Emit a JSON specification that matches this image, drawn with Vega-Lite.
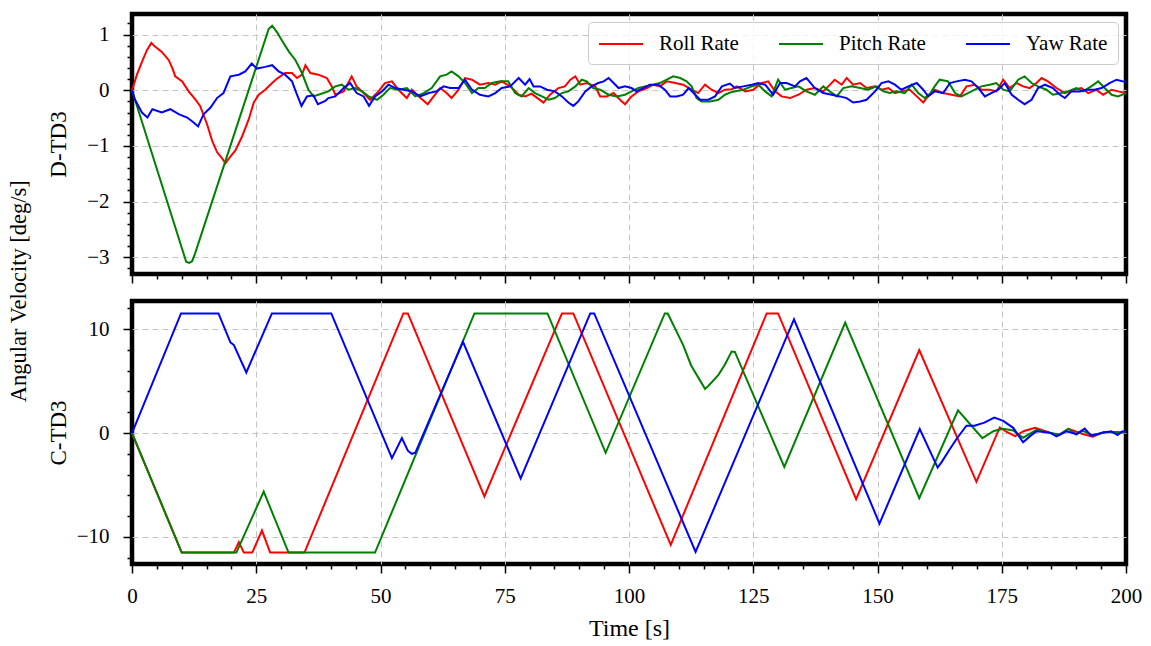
{
  "$schema": "https://vega.github.io/schema/vega-lite/v6.json",
  "background": "white",
  "padding": {"left": 8, "top": 10, "right": 10, "bottom": 5},
  "title": {"text": "Angular Velocity [deg/s]", "orient": "left", "anchor": "middle", "fontSize": 22.5, "font": "Liberation Serif", "fontWeight": "normal", "color": "black", "offset": 14, "dx": 35},
  "spacing": 9,
  "resolve": {"scale": {"color": "independent"}, "legend": {"color": "independent"}},
  "config": {
    "font": "Liberation Serif",
    "view": {"stroke": "black", "strokeWidth": 4.5},
    "axis": {
      "domain": false,
      "tickColor": "black",
      "tickWidth": 1.5,
      "tickCount": 100,
      "labelFont": "Liberation Serif",
      "titleFont": "Liberation Serif",
      "labelFontSize": 21,
      "titleFontSize": 23,
      "titleFontWeight": "normal",
      "labelColor": "black",
      "titleColor": "black",
      "gridColor": "#c4c4c4",
      "gridDash": [6, 4],
      "gridWidth": 1,
      "labelOverlap": false,
      "labelFlush": false,
      "labelBound": false
    }
  },
  "vconcat": [
    {
      "width": 994,
      "height": 260,
      "data": {"values": [
        {"s":"Roll Rate","t":0,"v":0},{"s":"Roll Rate","t":1,"v":0.28},{"s":"Roll Rate","t":2,"v":0.51},{"s":"Roll Rate","t":3,"v":0.72},{"s":"Roll Rate","t":3.9,"v":0.85},{"s":"Roll Rate","t":4.7,"v":0.78},{"s":"Roll Rate","t":6,"v":0.69},{"s":"Roll Rate","t":7.4,"v":0.54},{"s":"Roll Rate","t":8.2,"v":0.38},{"s":"Roll Rate","t":8.7,"v":0.25},{"s":"Roll Rate","t":10.1,"v":0.16},{"s":"Roll Rate","t":11.4,"v":-0.02},{"s":"Roll Rate","t":12.7,"v":-0.16},{"s":"Roll Rate","t":13.7,"v":-0.28},{"s":"Roll Rate","t":15.1,"v":-0.61},{"s":"Roll Rate","t":16.1,"v":-0.9},{"s":"Roll Rate","t":17.1,"v":-1.11},{"s":"Roll Rate","t":18.1,"v":-1.22},{"s":"Roll Rate","t":18.8,"v":-1.31},{"s":"Roll Rate","t":19.8,"v":-1.19},{"s":"Roll Rate","t":20.8,"v":-1.08},{"s":"Roll Rate","t":22.1,"v":-0.84},{"s":"Roll Rate","t":23.5,"v":-0.52},{"s":"Roll Rate","t":24.5,"v":-0.22},{"s":"Roll Rate","t":25.5,"v":-0.08},{"s":"Roll Rate","t":26.8,"v":0.01},{"s":"Roll Rate","t":28.2,"v":0.13},{"s":"Roll Rate","t":29.2,"v":0.21},{"s":"Roll Rate","t":30.8,"v":0.31},{"s":"Roll Rate","t":32.2,"v":0.31},{"s":"Roll Rate","t":33.2,"v":0.22},{"s":"Roll Rate","t":34.2,"v":0.28},{"s":"Roll Rate","t":34.9,"v":0.45},{"s":"Roll Rate","t":35.9,"v":0.31},{"s":"Roll Rate","t":37.5,"v":0.28},{"s":"Roll Rate","t":39.2,"v":0.22},{"s":"Roll Rate","t":40.2,"v":0.07},{"s":"Roll Rate","t":40.9,"v":-0.08},{"s":"Roll Rate","t":42.6,"v":-0.02},{"s":"Roll Rate","t":44.2,"v":0.25},{"s":"Roll Rate","t":45.2,"v":0.07},{"s":"Roll Rate","t":46.6,"v":-0.05},{"s":"Roll Rate","t":47.9,"v":-0.17},{"s":"Roll Rate","t":49.6,"v":-0.02},{"s":"Roll Rate","t":50.9,"v":0.13},{"s":"Roll Rate","t":52.3,"v":0.16},{"s":"Roll Rate","t":53.6,"v":0.01},{"s":"Roll Rate","t":55.3,"v":-0.14},{"s":"Roll Rate","t":56.3,"v":0.01},{"s":"Roll Rate","t":57.7,"v":-0.11},{"s":"Roll Rate","t":59.5,"v":-0.25},{"s":"Roll Rate","t":60.7,"v":-0.11},{"s":"Roll Rate","t":62,"v":0.04},{"s":"Roll Rate","t":63.3,"v":-0.05},{"s":"Roll Rate","t":64.3,"v":-0.14},{"s":"Roll Rate","t":65.7,"v":0.01},{"s":"Roll Rate","t":67,"v":0.22},{"s":"Roll Rate","t":68.4,"v":0.19},{"s":"Roll Rate","t":70,"v":0.1},{"s":"Roll Rate","t":71.7,"v":0.13},{"s":"Roll Rate","t":73.1,"v":0.1},{"s":"Roll Rate","t":74.4,"v":0.16},{"s":"Roll Rate","t":76.1,"v":0.07},{"s":"Roll Rate","t":77.8,"v":-0.08},{"s":"Roll Rate","t":79.1,"v":-0.11},{"s":"Roll Rate","t":80.4,"v":-0.06},{"s":"Roll Rate","t":81.1,"v":-0.11},{"s":"Roll Rate","t":82.8,"v":-0.22},{"s":"Roll Rate","t":84.1,"v":-0.08},{"s":"Roll Rate","t":85.8,"v":0.04},{"s":"Roll Rate","t":87.1,"v":0.07},{"s":"Roll Rate","t":88.2,"v":0.19},{"s":"Roll Rate","t":89.2,"v":0.25},{"s":"Roll Rate","t":90.2,"v":0.1},{"s":"Roll Rate","t":91.5,"v":0.13},{"s":"Roll Rate","t":93.2,"v":0.07},{"s":"Roll Rate","t":94.2,"v":-0.11},{"s":"Roll Rate","t":95.5,"v":-0.11},{"s":"Roll Rate","t":96.9,"v":-0.05},{"s":"Roll Rate","t":98.2,"v":-0.17},{"s":"Roll Rate","t":99.2,"v":-0.25},{"s":"Roll Rate","t":100.5,"v":-0.11},{"s":"Roll Rate","t":101.9,"v":-0.02},{"s":"Roll Rate","t":103.6,"v":0.04},{"s":"Roll Rate","t":104.9,"v":0.1},{"s":"Roll Rate","t":106.2,"v":0.07},{"s":"Roll Rate","t":107.6,"v":0.16},{"s":"Roll Rate","t":109.3,"v":0.13},{"s":"Roll Rate","t":110.9,"v":0.1},{"s":"Roll Rate","t":112.6,"v":0.01},{"s":"Roll Rate","t":113.9,"v":-0.05},{"s":"Roll Rate","t":115.3,"v":0.1},{"s":"Roll Rate","t":116.6,"v":0.01},{"s":"Roll Rate","t":118,"v":-0.05},{"s":"Roll Rate","t":119.3,"v":0.01},{"s":"Roll Rate","t":120.7,"v":0.02},{"s":"Roll Rate","t":121.7,"v":0.07},{"s":"Roll Rate","t":123.4,"v":-0.02},{"s":"Roll Rate","t":125,"v":0.01},{"s":"Roll Rate","t":126.7,"v":0.13},{"s":"Roll Rate","t":128,"v":0.16},{"s":"Roll Rate","t":129.4,"v":-0.02},{"s":"Roll Rate","t":130.7,"v":-0.11},{"s":"Roll Rate","t":132.4,"v":-0.14},{"s":"Roll Rate","t":134.1,"v":-0.08},{"s":"Roll Rate","t":135.7,"v":0.01},{"s":"Roll Rate","t":137.4,"v":0.04},{"s":"Roll Rate","t":139.1,"v":-0.02},{"s":"Roll Rate","t":140.1,"v":0.07},{"s":"Roll Rate","t":141.4,"v":0.19},{"s":"Roll Rate","t":142.8,"v":0.1},{"s":"Roll Rate","t":143.8,"v":0.22},{"s":"Roll Rate","t":145.1,"v":0.1},{"s":"Roll Rate","t":146.5,"v":0.13},{"s":"Roll Rate","t":147.8,"v":0.04},{"s":"Roll Rate","t":149.5,"v":0.07},{"s":"Roll Rate","t":150.8,"v":0.01},{"s":"Roll Rate","t":152.2,"v":0.04},{"s":"Roll Rate","t":153.5,"v":-0.05},{"s":"Roll Rate","t":154.8,"v":-0.02},{"s":"Roll Rate","t":156.5,"v":0.01},{"s":"Roll Rate","t":157.9,"v":-0.11},{"s":"Roll Rate","t":159.2,"v":-0.22},{"s":"Roll Rate","t":160.2,"v":-0.1},{"s":"Roll Rate","t":161.5,"v":0.01},{"s":"Roll Rate","t":163.2,"v":-0.05},{"s":"Roll Rate","t":164.9,"v":-0.08},{"s":"Roll Rate","t":166.6,"v":-0.11},{"s":"Roll Rate","t":167.9,"v":0.07},{"s":"Roll Rate","t":169.6,"v":0.1},{"s":"Roll Rate","t":170.9,"v":0.01},{"s":"Roll Rate","t":172.6,"v":0.01},{"s":"Roll Rate","t":173.9,"v":-0.02},{"s":"Roll Rate","t":175.3,"v":0.19},{"s":"Roll Rate","t":176.6,"v":0.04},{"s":"Roll Rate","t":178,"v":0.13},{"s":"Roll Rate","t":179.3,"v":0.07},{"s":"Roll Rate","t":180.6,"v":0.04},{"s":"Roll Rate","t":182,"v":0.13},{"s":"Roll Rate","t":183,"v":0.22},{"s":"Roll Rate","t":184.3,"v":0.16},{"s":"Roll Rate","t":186,"v":0.04},{"s":"Roll Rate","t":187.7,"v":-0.05},{"s":"Roll Rate","t":189.4,"v":0.01},{"s":"Roll Rate","t":191,"v":0.04},{"s":"Roll Rate","t":192.4,"v":-0.05},{"s":"Roll Rate","t":194,"v":0.01},{"s":"Roll Rate","t":195.4,"v":-0.08},{"s":"Roll Rate","t":197.1,"v":0.01},{"s":"Roll Rate","t":198.4,"v":-0.02},{"s":"Roll Rate","t":200,"v":-0.05},

        {"s":"Pitch Rate","t":0,"v":0},{"s":"Pitch Rate","t":10.9,"v":-3.08},{"s":"Pitch Rate","t":11.5,"v":-3.1},{"s":"Pitch Rate","t":12.1,"v":-3.07},{"s":"Pitch Rate","t":12.7,"v":-2.93},{"s":"Pitch Rate","t":27.5,"v":1.1},{"s":"Pitch Rate","t":28.2,"v":1.16},{"s":"Pitch Rate","t":29.2,"v":1.04},{"s":"Pitch Rate","t":30.2,"v":0.89},{"s":"Pitch Rate","t":31.6,"v":0.69},{"s":"Pitch Rate","t":32.9,"v":0.54},{"s":"Pitch Rate","t":34.2,"v":0.31},{"s":"Pitch Rate","t":35.5,"v":0.01},{"s":"Pitch Rate","t":36.5,"v":-0.11},{"s":"Pitch Rate","t":37.5,"v":-0.08},{"s":"Pitch Rate","t":39.5,"v":-0.02},{"s":"Pitch Rate","t":40.9,"v":0.07},{"s":"Pitch Rate","t":42.2,"v":0.1},{"s":"Pitch Rate","t":43.6,"v":0.01},{"s":"Pitch Rate","t":44.9,"v":0.04},{"s":"Pitch Rate","t":46.3,"v":-0.02},{"s":"Pitch Rate","t":47.6,"v":-0.11},{"s":"Pitch Rate","t":49.3,"v":-0.17},{"s":"Pitch Rate","t":50.6,"v":-0.08},{"s":"Pitch Rate","t":51.9,"v":0.04},{"s":"Pitch Rate","t":53.6,"v":0.01},{"s":"Pitch Rate","t":55.3,"v":0.04},{"s":"Pitch Rate","t":57,"v":-0.11},{"s":"Pitch Rate","t":58.7,"v":-0.05},{"s":"Pitch Rate","t":60.3,"v":0.04},{"s":"Pitch Rate","t":62,"v":0.25},{"s":"Pitch Rate","t":63.3,"v":0.28},{"s":"Pitch Rate","t":64.3,"v":0.34},{"s":"Pitch Rate","t":65.7,"v":0.25},{"s":"Pitch Rate","t":67,"v":0.13},{"s":"Pitch Rate","t":68.4,"v":-0.05},{"s":"Pitch Rate","t":69.7,"v":0.04},{"s":"Pitch Rate","t":71,"v":0.04},{"s":"Pitch Rate","t":72.4,"v":0.13},{"s":"Pitch Rate","t":74.1,"v":0.16},{"s":"Pitch Rate","t":75.7,"v":0.16},{"s":"Pitch Rate","t":77.1,"v":-0.05},{"s":"Pitch Rate","t":78.4,"v":-0.11},{"s":"Pitch Rate","t":79.8,"v":0.04},{"s":"Pitch Rate","t":81.1,"v":-0.05},{"s":"Pitch Rate","t":82.5,"v":-0.11},{"s":"Pitch Rate","t":83.8,"v":-0.17},{"s":"Pitch Rate","t":85.1,"v":-0.14},{"s":"Pitch Rate","t":86.5,"v":-0.05},{"s":"Pitch Rate","t":87.8,"v":-0.02},{"s":"Pitch Rate","t":89.2,"v":0.07},{"s":"Pitch Rate","t":90.5,"v":0.19},{"s":"Pitch Rate","t":91.5,"v":0.16},{"s":"Pitch Rate","t":92.8,"v":0.04},{"s":"Pitch Rate","t":94.2,"v":0.01},{"s":"Pitch Rate","t":95.9,"v":-0.08},{"s":"Pitch Rate","t":97.5,"v":-0.11},{"s":"Pitch Rate","t":99.2,"v":-0.08},{"s":"Pitch Rate","t":100.5,"v":-0.02},{"s":"Pitch Rate","t":101.9,"v":0.04},{"s":"Pitch Rate","t":103.2,"v":0.07},{"s":"Pitch Rate","t":104.9,"v":0.1},{"s":"Pitch Rate","t":106.2,"v":0.13},{"s":"Pitch Rate","t":107.6,"v":0.19},{"s":"Pitch Rate","t":108.9,"v":0.25},{"s":"Pitch Rate","t":110.3,"v":0.22},{"s":"Pitch Rate","t":111.6,"v":0.16},{"s":"Pitch Rate","t":112.6,"v":0.07},{"s":"Pitch Rate","t":113.6,"v":-0.14},{"s":"Pitch Rate","t":114.6,"v":-0.2},{"s":"Pitch Rate","t":116.3,"v":-0.2},{"s":"Pitch Rate","t":118,"v":-0.17},{"s":"Pitch Rate","t":119.3,"v":-0.08},{"s":"Pitch Rate","t":120.7,"v":-0.03},{"s":"Pitch Rate","t":123,"v":0.01},{"s":"Pitch Rate","t":124.7,"v":0.07},{"s":"Pitch Rate","t":126,"v":0.1},{"s":"Pitch Rate","t":127.4,"v":-0.02},{"s":"Pitch Rate","t":128.7,"v":-0.11},{"s":"Pitch Rate","t":130,"v":0.19},{"s":"Pitch Rate","t":131.4,"v":0.01},{"s":"Pitch Rate","t":132.7,"v":0.04},{"s":"Pitch Rate","t":134.1,"v":0.07},{"s":"Pitch Rate","t":135.7,"v":-0.02},{"s":"Pitch Rate","t":137.4,"v":-0.08},{"s":"Pitch Rate","t":139.1,"v":0.07},{"s":"Pitch Rate","t":140.4,"v":-0.02},{"s":"Pitch Rate","t":141.8,"v":-0.11},{"s":"Pitch Rate","t":143.1,"v":0.04},{"s":"Pitch Rate","t":144.8,"v":0.07},{"s":"Pitch Rate","t":146.5,"v":0.04},{"s":"Pitch Rate","t":148.1,"v":0.01},{"s":"Pitch Rate","t":149.8,"v":0.07},{"s":"Pitch Rate","t":151.2,"v":-0.02},{"s":"Pitch Rate","t":152.5,"v":-0.05},{"s":"Pitch Rate","t":153.8,"v":-0.02},{"s":"Pitch Rate","t":155.5,"v":-0.05},{"s":"Pitch Rate","t":156.9,"v":0.1},{"s":"Pitch Rate","t":158.2,"v":-0.05},{"s":"Pitch Rate","t":159.5,"v":-0.14},{"s":"Pitch Rate","t":160.6,"v":-0.06},{"s":"Pitch Rate","t":161.5,"v":0.07},{"s":"Pitch Rate","t":162.5,"v":0.19},{"s":"Pitch Rate","t":164.2,"v":0.16},{"s":"Pitch Rate","t":165.6,"v":-0.05},{"s":"Pitch Rate","t":166.9,"v":-0.11},{"s":"Pitch Rate","t":168.2,"v":-0.05},{"s":"Pitch Rate","t":169.6,"v":0.01},{"s":"Pitch Rate","t":170.9,"v":0.07},{"s":"Pitch Rate","t":172.6,"v":0.1},{"s":"Pitch Rate","t":173.9,"v":0.13},{"s":"Pitch Rate","t":175.3,"v":0.01},{"s":"Pitch Rate","t":176.6,"v":-0.02},{"s":"Pitch Rate","t":178.3,"v":0.19},{"s":"Pitch Rate","t":179.6,"v":0.25},{"s":"Pitch Rate","t":181,"v":0.13},{"s":"Pitch Rate","t":182.3,"v":0.07},{"s":"Pitch Rate","t":184,"v":0.01},{"s":"Pitch Rate","t":185.3,"v":-0.08},{"s":"Pitch Rate","t":187,"v":-0.05},{"s":"Pitch Rate","t":188.3,"v":-0.02},{"s":"Pitch Rate","t":190,"v":0.04},{"s":"Pitch Rate","t":191.4,"v":-0.02},{"s":"Pitch Rate","t":193,"v":0.07},{"s":"Pitch Rate","t":194.4,"v":0.16},{"s":"Pitch Rate","t":195.7,"v":0.04},{"s":"Pitch Rate","t":197.1,"v":-0.08},{"s":"Pitch Rate","t":198.4,"v":-0.11},{"s":"Pitch Rate","t":200,"v":-0.05},

        {"s":"Yaw Rate","t":0,"v":0},{"s":"Yaw Rate","t":0.5,"v":-0.15},{"s":"Yaw Rate","t":1.1,"v":-0.25},{"s":"Yaw Rate","t":2,"v":-0.4},{"s":"Yaw Rate","t":3.1,"v":-0.49},{"s":"Yaw Rate","t":4.1,"v":-0.34},{"s":"Yaw Rate","t":6,"v":-0.4},{"s":"Yaw Rate","t":7.7,"v":-0.34},{"s":"Yaw Rate","t":9.4,"v":-0.43},{"s":"Yaw Rate","t":11.1,"v":-0.49},{"s":"Yaw Rate","t":12.4,"v":-0.58},{"s":"Yaw Rate","t":13.3,"v":-0.65},{"s":"Yaw Rate","t":14.4,"v":-0.43},{"s":"Yaw Rate","t":15.8,"v":-0.31},{"s":"Yaw Rate","t":17.1,"v":-0.14},{"s":"Yaw Rate","t":18.4,"v":-0.05},{"s":"Yaw Rate","t":19.8,"v":0.25},{"s":"Yaw Rate","t":21.5,"v":0.28},{"s":"Yaw Rate","t":22.8,"v":0.34},{"s":"Yaw Rate","t":24.1,"v":0.48},{"s":"Yaw Rate","t":25.1,"v":0.39},{"s":"Yaw Rate","t":26.8,"v":0.42},{"s":"Yaw Rate","t":28.2,"v":0.45},{"s":"Yaw Rate","t":29.5,"v":0.34},{"s":"Yaw Rate","t":30.8,"v":0.28},{"s":"Yaw Rate","t":32.2,"v":0.16},{"s":"Yaw Rate","t":33.2,"v":-0.08},{"s":"Yaw Rate","t":34.1,"v":-0.28},{"s":"Yaw Rate","t":35.2,"v":-0.11},{"s":"Yaw Rate","t":36.5,"v":-0.09},{"s":"Yaw Rate","t":37.4,"v":-0.25},{"s":"Yaw Rate","t":38.9,"v":-0.19},{"s":"Yaw Rate","t":39.5,"v":-0.14},{"s":"Yaw Rate","t":40.9,"v":-0.11},{"s":"Yaw Rate","t":42.6,"v":0.04},{"s":"Yaw Rate","t":43.9,"v":0.13},{"s":"Yaw Rate","t":45.2,"v":-0.05},{"s":"Yaw Rate","t":46.6,"v":-0.11},{"s":"Yaw Rate","t":47.7,"v":-0.28},{"s":"Yaw Rate","t":48.9,"v":-0.11},{"s":"Yaw Rate","t":50.3,"v":-0.02},{"s":"Yaw Rate","t":51.6,"v":0.1},{"s":"Yaw Rate","t":53,"v":0.04},{"s":"Yaw Rate","t":54.6,"v":0.01},{"s":"Yaw Rate","t":56.3,"v":-0.02},{"s":"Yaw Rate","t":58,"v":-0.11},{"s":"Yaw Rate","t":59.7,"v":-0.05},{"s":"Yaw Rate","t":61.3,"v":-0.02},{"s":"Yaw Rate","t":62.7,"v":0.07},{"s":"Yaw Rate","t":64,"v":0.04},{"s":"Yaw Rate","t":65.7,"v":0.04},{"s":"Yaw Rate","t":67,"v":0.19},{"s":"Yaw Rate","t":68.4,"v":0.01},{"s":"Yaw Rate","t":70,"v":-0.08},{"s":"Yaw Rate","t":71.7,"v":-0.11},{"s":"Yaw Rate","t":73.1,"v":-0.05},{"s":"Yaw Rate","t":74.4,"v":0.04},{"s":"Yaw Rate","t":76.1,"v":0.07},{"s":"Yaw Rate","t":77.8,"v":0.22},{"s":"Yaw Rate","t":79.1,"v":0.1},{"s":"Yaw Rate","t":80,"v":0.2},{"s":"Yaw Rate","t":80.8,"v":0.07},{"s":"Yaw Rate","t":82.1,"v":0.07},{"s":"Yaw Rate","t":83.5,"v":0.01},{"s":"Yaw Rate","t":85.1,"v":-0.02},{"s":"Yaw Rate","t":86.5,"v":-0.11},{"s":"Yaw Rate","t":87.8,"v":-0.22},{"s":"Yaw Rate","t":88.8,"v":-0.28},{"s":"Yaw Rate","t":89.8,"v":-0.2},{"s":"Yaw Rate","t":91.2,"v":-0.02},{"s":"Yaw Rate","t":92.5,"v":0.07},{"s":"Yaw Rate","t":93.8,"v":0.13},{"s":"Yaw Rate","t":94.9,"v":0.16},{"s":"Yaw Rate","t":95.9,"v":0.22},{"s":"Yaw Rate","t":96.9,"v":0.13},{"s":"Yaw Rate","t":97.9,"v":0.04},{"s":"Yaw Rate","t":99.2,"v":0.07},{"s":"Yaw Rate","t":100.5,"v":0.04},{"s":"Yaw Rate","t":101.5,"v":-0.02},{"s":"Yaw Rate","t":102.9,"v":0.04},{"s":"Yaw Rate","t":104.2,"v":0.1},{"s":"Yaw Rate","t":105.9,"v":0.1},{"s":"Yaw Rate","t":107.2,"v":0.01},{"s":"Yaw Rate","t":108.3,"v":-0.11},{"s":"Yaw Rate","t":109.6,"v":-0.11},{"s":"Yaw Rate","t":110.9,"v":-0.08},{"s":"Yaw Rate","t":112,"v":0.04},{"s":"Yaw Rate","t":113,"v":-0.05},{"s":"Yaw Rate","t":114.3,"v":-0.17},{"s":"Yaw Rate","t":116,"v":-0.17},{"s":"Yaw Rate","t":117.3,"v":-0.11},{"s":"Yaw Rate","t":118.7,"v":0.07},{"s":"Yaw Rate","t":120.3,"v":0.12},{"s":"Yaw Rate","t":121.3,"v":0.04},{"s":"Yaw Rate","t":123,"v":0.07},{"s":"Yaw Rate","t":124.7,"v":0.1},{"s":"Yaw Rate","t":126,"v":0.13},{"s":"Yaw Rate","t":127.4,"v":0.1},{"s":"Yaw Rate","t":129,"v":-0.08},{"s":"Yaw Rate","t":130.4,"v":0.13},{"s":"Yaw Rate","t":131.7,"v":0.13},{"s":"Yaw Rate","t":133.4,"v":0.07},{"s":"Yaw Rate","t":134.4,"v":0.16},{"s":"Yaw Rate","t":135.7,"v":0.22},{"s":"Yaw Rate","t":137.4,"v":0.04},{"s":"Yaw Rate","t":139.1,"v":-0.05},{"s":"Yaw Rate","t":140.8,"v":-0.08},{"s":"Yaw Rate","t":142.4,"v":-0.11},{"s":"Yaw Rate","t":143.8,"v":-0.14},{"s":"Yaw Rate","t":145.1,"v":-0.22},{"s":"Yaw Rate","t":146.5,"v":-0.2},{"s":"Yaw Rate","t":147.8,"v":-0.17},{"s":"Yaw Rate","t":149.5,"v":-0.02},{"s":"Yaw Rate","t":150.8,"v":0.13},{"s":"Yaw Rate","t":152.2,"v":0.16},{"s":"Yaw Rate","t":153.5,"v":0.1},{"s":"Yaw Rate","t":154.8,"v":0.01},{"s":"Yaw Rate","t":156.2,"v":0.07},{"s":"Yaw Rate","t":157.9,"v":0.13},{"s":"Yaw Rate","t":159.2,"v":0.01},{"s":"Yaw Rate","t":160.2,"v":-0.11},{"s":"Yaw Rate","t":161.5,"v":-0.02},{"s":"Yaw Rate","t":163.2,"v":-0.05},{"s":"Yaw Rate","t":164.6,"v":0.13},{"s":"Yaw Rate","t":165.9,"v":0.16},{"s":"Yaw Rate","t":167.6,"v":0.19},{"s":"Yaw Rate","t":168.9,"v":0.16},{"s":"Yaw Rate","t":170.3,"v":0.04},{"s":"Yaw Rate","t":171.6,"v":-0.11},{"s":"Yaw Rate","t":172.9,"v":-0.05},{"s":"Yaw Rate","t":174.3,"v":0.01},{"s":"Yaw Rate","t":175.6,"v":0.13},{"s":"Yaw Rate","t":177,"v":-0.08},{"s":"Yaw Rate","t":178.3,"v":-0.17},{"s":"Yaw Rate","t":179.6,"v":-0.25},{"s":"Yaw Rate","t":181,"v":-0.17},{"s":"Yaw Rate","t":182.3,"v":0.04},{"s":"Yaw Rate","t":183.7,"v":0.1},{"s":"Yaw Rate","t":185.3,"v":0.04},{"s":"Yaw Rate","t":186.7,"v":-0.08},{"s":"Yaw Rate","t":187.7,"v":-0.14},{"s":"Yaw Rate","t":189,"v":-0.02},{"s":"Yaw Rate","t":190.7,"v":-0.02},{"s":"Yaw Rate","t":192,"v":0.01},{"s":"Yaw Rate","t":193.7,"v":0.01},{"s":"Yaw Rate","t":195.1,"v":0.04},{"s":"Yaw Rate","t":196.7,"v":0.13},{"s":"Yaw Rate","t":198.1,"v":0.19},{"s":"Yaw Rate","t":199.4,"v":0.16},{"s":"Yaw Rate","t":200,"v":0.15}
      ]},
      "mark": {"type": "line", "strokeWidth": 2},
      "encoding": {
        "x": {"field": "t", "type": "quantitative", "scale": {"domain": [0, 200], "nice": false},
          "axis": {"title": null, "labels": false, "tickCount": 100,
            "values": [0,5,10,15,20,25,30,35,40,45,50,55,60,65,70,75,80,85,90,95,100,105,110,115,120,125,130,135,140,145,150,155,160,165,170,175,180,185,190,195,200],
            "tickSize": {"condition": {"test": "datum.value % 25 === 0", "value": 9}, "value": 5},
            "gridOpacity": {"condition": {"test": "datum.value % 25 === 0 && datum.value > 0 && datum.value < 200", "value": 1}, "value": 0}}},
        "y": {"field": "v", "type": "quantitative", "scale": {"domain": [-3.3, 1.37], "nice": false, "zero": false},
          "axis": {"title": "D-TD3", "titleX": -74, "titleBaseline": "middle", "labelPadding": 14, "tickCount": 100,
            "values": [-3.2,-3,-2.8,-2.6,-2.4,-2.2,-2,-1.8,-1.6,-1.4,-1.2,-1,-0.8,-0.6,-0.4,-0.2,0,0.2,0.4,0.6,0.8,1,1.2],
            "labelExpr": "abs(datum.value % 1) < 0.001 ? format(datum.value, 'd') : ''",
            "tickSize": {"condition": {"test": "abs(datum.value % 1) < 0.001", "value": 9}, "value": 5},
            "gridOpacity": {"condition": {"test": "abs(datum.value % 1) < 0.001", "value": 1}, "value": 0}}},
        "color": {"field": "s", "type": "nominal",
          "scale": {"domain": ["Roll Rate", "Pitch Rate", "Yaw Rate"], "range": ["#ff0000", "#008000", "#0000ff"]},
          "legend": {"title": null, "orient": "top-right", "direction": "horizontal", "offset": 8,
            "symbolType": "M-2,0H2", "symbolSize": 484, "symbolStrokeWidth": 2, "symbolOffset": 11,
            "labelFont": "Liberation Serif", "labelFontSize": 21, "labelColor": "black", "labelOffset": 26,
            "columnPadding": 36, "padding": 10,
            "strokeColor": "#cccccc", "fillColor": "rgba(255,255,255,0.8)", "cornerRadius": 4}}
      }
    },
    {
      "width": 994,
      "height": 263,
      "data": {"values": [
        {"s":"Roll Rate","t":0,"v":0},{"s":"Roll Rate","t":10,"v":-11.5},{"s":"Roll Rate","t":20.5,"v":-11.5},{"s":"Roll Rate","t":21.5,"v":-10.5},{"s":"Roll Rate","t":22.5,"v":-11.5},{"s":"Roll Rate","t":24.2,"v":-11.5},{"s":"Roll Rate","t":26.15,"v":-9.38},{"s":"Roll Rate","t":27.8,"v":-11.5},{"s":"Roll Rate","t":34.7,"v":-11.5},{"s":"Roll Rate","t":54.6,"v":11.5},{"s":"Roll Rate","t":55.5,"v":11.5},{"s":"Roll Rate","t":70.9,"v":-6.1},{"s":"Roll Rate","t":86.5,"v":11.5},{"s":"Roll Rate","t":88.8,"v":11.5},{"s":"Roll Rate","t":108.4,"v":-10.77},{"s":"Roll Rate","t":127.7,"v":11.5},{"s":"Roll Rate","t":130,"v":11.5},{"s":"Roll Rate","t":145.7,"v":-6.37},{"s":"Roll Rate","t":158.4,"v":7.98},{"s":"Roll Rate","t":169.9,"v":-4.69},{"s":"Roll Rate","t":174.6,"v":0.54},{"s":"Roll Rate","t":176,"v":0.1},{"s":"Roll Rate","t":177.7,"v":-0.3},{"s":"Roll Rate","t":179.5,"v":0.2},{"s":"Roll Rate","t":181.7,"v":0.5},{"s":"Roll Rate","t":184.7,"v":0.04},{"s":"Roll Rate","t":186.5,"v":-0.2},{"s":"Roll Rate","t":188.4,"v":0.4},{"s":"Roll Rate","t":191.3,"v":-0.1},{"s":"Roll Rate","t":193.3,"v":-0.35},{"s":"Roll Rate","t":195.5,"v":0.1},{"s":"Roll Rate","t":198,"v":0.1},{"s":"Roll Rate","t":200,"v":0.05},
        {"s":"Pitch Rate","t":0,"v":0},{"s":"Pitch Rate","t":10,"v":-11.5},{"s":"Pitch Rate","t":21,"v":-11.5},{"s":"Pitch Rate","t":26.5,"v":-5.64},{"s":"Pitch Rate","t":31.5,"v":-11.5},{"s":"Pitch Rate","t":48.9,"v":-11.5},{"s":"Pitch Rate","t":68.9,"v":11.5},{"s":"Pitch Rate","t":83.6,"v":11.5},{"s":"Pitch Rate","t":95.3,"v":-1.9},{"s":"Pitch Rate","t":107.2,"v":11.5},{"s":"Pitch Rate","t":107.8,"v":11.5},{"s":"Pitch Rate","t":110.9,"v":8.46},{"s":"Pitch Rate","t":112.5,"v":6.5},{"s":"Pitch Rate","t":115.3,"v":4.25},{"s":"Pitch Rate","t":115.9,"v":4.5},{"s":"Pitch Rate","t":118,"v":5.6},{"s":"Pitch Rate","t":119.3,"v":6.6},{"s":"Pitch Rate","t":120.65,"v":7.83},{"s":"Pitch Rate","t":121.3,"v":7.8},{"s":"Pitch Rate","t":131.25,"v":-3.26},{"s":"Pitch Rate","t":143.5,"v":10.62},{"s":"Pitch Rate","t":158.4,"v":-6.27},{"s":"Pitch Rate","t":166.2,"v":2.19},{"s":"Pitch Rate","t":171.1,"v":-0.5},{"s":"Pitch Rate","t":173.4,"v":0.2},{"s":"Pitch Rate","t":175.3,"v":0.4},{"s":"Pitch Rate","t":177.3,"v":0.25},{"s":"Pitch Rate","t":179.3,"v":-0.45},{"s":"Pitch Rate","t":182,"v":0.3},{"s":"Pitch Rate","t":184.7,"v":0},{"s":"Pitch Rate","t":186.6,"v":-0.15},{"s":"Pitch Rate","t":188.4,"v":0.4},{"s":"Pitch Rate","t":190,"v":-0.15},{"s":"Pitch Rate","t":191.3,"v":0.2},{"s":"Pitch Rate","t":193.3,"v":-0.2},{"s":"Pitch Rate","t":196,"v":0.1},{"s":"Pitch Rate","t":198,"v":0},{"s":"Pitch Rate","t":200,"v":0.1},
        {"s":"Yaw Rate","t":0,"v":0},{"s":"Yaw Rate","t":9.86,"v":11.5},{"s":"Yaw Rate","t":17.4,"v":11.5},{"s":"Yaw Rate","t":19.8,"v":8.72},{"s":"Yaw Rate","t":20.5,"v":8.46},{"s":"Yaw Rate","t":23,"v":5.83},{"s":"Yaw Rate","t":28.15,"v":11.5},{"s":"Yaw Rate","t":40.1,"v":11.5},{"s":"Yaw Rate","t":52.3,"v":-2.41},{"s":"Yaw Rate","t":54.3,"v":-0.48},{"s":"Yaw Rate","t":55.5,"v":-1.7},{"s":"Yaw Rate","t":56.3,"v":-2},{"s":"Yaw Rate","t":57,"v":-1.9},{"s":"Yaw Rate","t":66.6,"v":8.78},{"s":"Yaw Rate","t":78.2,"v":-4.37},{"s":"Yaw Rate","t":92.2,"v":11.5},{"s":"Yaw Rate","t":93,"v":11.5},{"s":"Yaw Rate","t":113.4,"v":-11.44},{"s":"Yaw Rate","t":133.2,"v":10.93},{"s":"Yaw Rate","t":150.4,"v":-8.71},{"s":"Yaw Rate","t":158.5,"v":0.38},{"s":"Yaw Rate","t":162.1,"v":-3.33},{"s":"Yaw Rate","t":162.9,"v":-2.8},{"s":"Yaw Rate","t":164.6,"v":-1.52},{"s":"Yaw Rate","t":166,"v":-0.5},{"s":"Yaw Rate","t":167.9,"v":0.7},{"s":"Yaw Rate","t":169.5,"v":0.7},{"s":"Yaw Rate","t":171.5,"v":1},{"s":"Yaw Rate","t":173.5,"v":1.49},{"s":"Yaw Rate","t":175.3,"v":1.17},{"s":"Yaw Rate","t":177.3,"v":0.5},{"s":"Yaw Rate","t":179.3,"v":-0.89},{"s":"Yaw Rate","t":180.7,"v":-0.3},{"s":"Yaw Rate","t":182,"v":0.17},{"s":"Yaw Rate","t":184.7,"v":0.04},{"s":"Yaw Rate","t":186,"v":-0.33},{"s":"Yaw Rate","t":188,"v":0.17},{"s":"Yaw Rate","t":190,"v":-0.1},{"s":"Yaw Rate","t":191.7,"v":0.43},{"s":"Yaw Rate","t":193,"v":-0.27},{"s":"Yaw Rate","t":195.4,"v":0.04},{"s":"Yaw Rate","t":197,"v":0.17},{"s":"Yaw Rate","t":198.3,"v":-0.2},{"s":"Yaw Rate","t":199.3,"v":0.17},{"s":"Yaw Rate","t":200,"v":0.1}
      ]},
      "mark": {"type": "line", "strokeWidth": 2},
      "encoding": {
        "x": {"field": "t", "type": "quantitative", "scale": {"domain": [0, 200], "nice": false},
          "axis": {"title": "Time [s]", "titleFontSize": 24, "titlePadding": 10, "labelPadding": 12, "tickCount": 100,
            "values": [0,5,10,15,20,25,30,35,40,45,50,55,60,65,70,75,80,85,90,95,100,105,110,115,120,125,130,135,140,145,150,155,160,165,170,175,180,185,190,195,200],
            "labelExpr": "datum.value % 25 === 0 ? format(datum.value, 'd') : ''",
            "tickSize": {"condition": {"test": "datum.value % 25 === 0", "value": 9}, "value": 5},
            "gridOpacity": {"condition": {"test": "datum.value % 25 === 0 && datum.value > 0 && datum.value < 200", "value": 1}, "value": 0}}},
        "y": {"field": "v", "type": "quantitative", "scale": {"domain": [-12.6, 12.7], "nice": false, "zero": false},
          "axis": {"title": "C-TD3", "titleX": -74, "titleBaseline": "middle", "labelPadding": 14, "tickCount": 100,
            "values": [-12,-10,-8,-6,-4,-2,0,2,4,6,8,10,12],
            "labelExpr": "datum.value % 10 === 0 ? format(datum.value, 'd') : ''",
            "tickSize": {"condition": {"test": "datum.value % 10 === 0", "value": 9}, "value": 5},
            "gridOpacity": {"condition": {"test": "datum.value % 10 === 0", "value": 1}, "value": 0}}},
        "color": {"field": "s", "type": "nominal",
          "scale": {"domain": ["Roll Rate", "Pitch Rate", "Yaw Rate"], "range": ["#ff0000", "#008000", "#0000ff"]},
          "legend": null}
      }
    }
  ]
}
